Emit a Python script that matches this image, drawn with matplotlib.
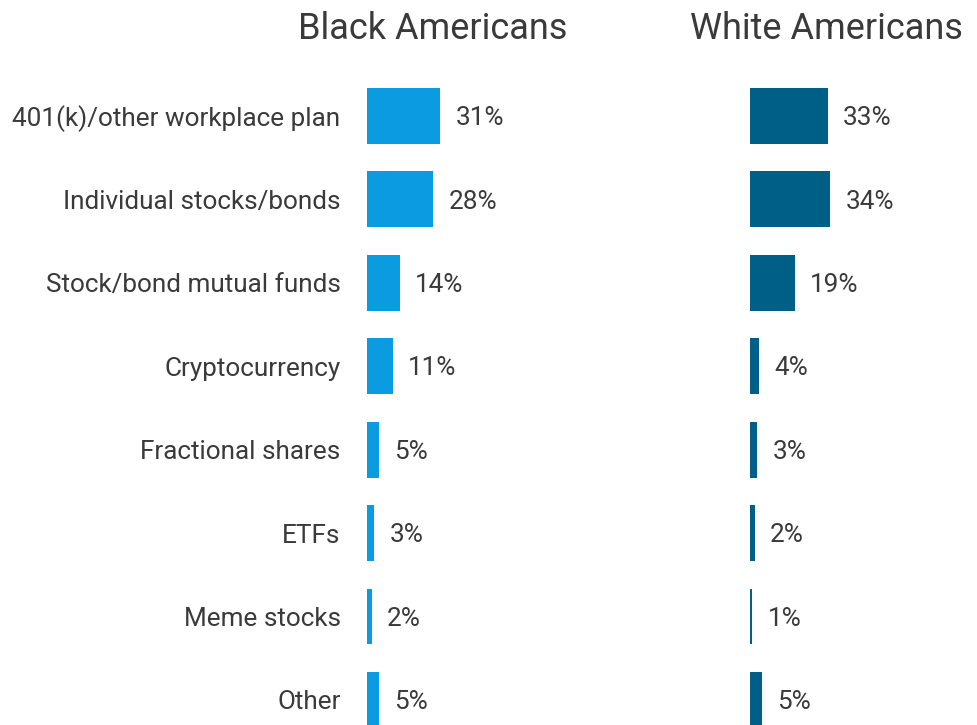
import matplotlib.pyplot as plt

plt.rcParams['font.family'] = ['Roboto', 'DejaVu Sans']

categories = ["401(k)/other workplace plan", "Individual stocks/bonds",
              "Stock/bond mutual funds", "Cryptocurrency", "Fractional shares",
              "ETFs", "Meme stocks", "Other"]
black = [31, 28, 14, 11, 5, 3, 2, 5]
white = [33, 34, 19, 4, 3, 2, 1, 5]
groups = ["Black Americans", "White Americans"]

text_color = "#3a3a3a"
colors = ["#0b9be0", "#005f86"]

W, H = 978, 725
fig = plt.figure(figsize=(W / 100, H / 100), dpi=100)

px_per_pct = 2.36
ax_w = 45 * px_per_pct
top = 116 - 0.5 * 83.4
lefts = [367, 750]

for k, (vals, name) in enumerate(zip([black, white], groups)):
    ax = fig.add_axes([lefts[k] / W, 0, ax_w / W, (H - top) / H])
    y = range(len(categories))
    ax.barh(y, vals, height=0.67, color=colors[k])
    ax.set_xlim(0, 45)
    ax.set_ylim(7.3, -0.5)
    for i, v in enumerate(vals):
        ax.annotate(f"{v}%", (v, i), xytext=(11, -1.5), textcoords="offset points",
                    va="center", ha="left", fontsize=18.8, color=text_color)
    for s in ax.spines.values():
        s.set_visible(False)
    ax.set_xticks([])
    ax.tick_params(axis="y", length=0, pad=19)
    if k == 0:
        ax.set_yticks(list(y))
        ax.set_yticklabels(categories, fontsize=18.8, color=text_color)
    else:
        ax.set_yticks([])

fig.text(433 / W, 1 - 29 / H, groups[0], ha="center", va="center",
         fontsize=26, color=text_color)
fig.text(826 / W, 1 - 29 / H, groups[1], ha="center", va="center",
         fontsize=26, color=text_color)

fig.savefig("out.png", dpi=100)
